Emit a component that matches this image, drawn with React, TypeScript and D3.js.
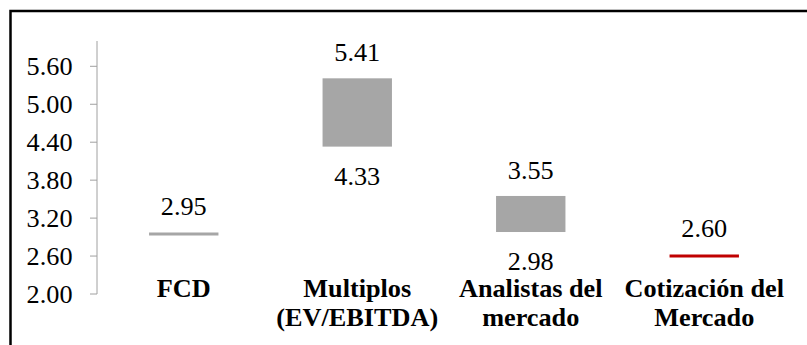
import React from "react";
import * as d3 from "d3";

// Valuation ranges per method (low / high); equal values draw a single line
const categories: string[][] = [
  ["FCD"],
  ["Multiplos", "(EV/EBITDA)"],
  ["Analistas del", "mercado"],
  ["Cotización del", "Mercado"],
];
const lows: number[] = [2.95, 4.33, 2.98, 2.6];
const highs: number[] = [2.95, 5.41, 3.55, 2.6];
const colors: string[] = ["#a6a6a6", "#a6a6a6", "#a6a6a6", "#c00000"];
const yTicks: number[] = [2.0, 2.6, 3.2, 3.8, 4.4, 5.0, 5.6];

const W = 807;
const H = 345;
const plot = { left: 97, right: 791, top: 41, bottom: 294 };
const FONT = "Liberation Serif, DejaVu Serif, serif";
const FS = 25;
const SX = 1.05;

// Text placed at (x, y) with a slight horizontal widening
function Label(props: {
  x: number;
  y: number;
  anchor: "start" | "middle" | "end";
  bold?: boolean;
  lines: string[];
  lineGap?: number;
  dy?: string;
}) {
  const { x, y, anchor, bold, lines, lineGap = 29, dy } = props;
  return (
    <g transform={`translate(${x},${y}) scale(${SX},1)`}>
      <text
        textAnchor={anchor}
        fontSize={FS}
        fontWeight={bold ? "bold" : "normal"}
        fill="#000"
        style={{ fontFamily: FONT }}
      >
        {lines.map((l, j) => (
          <tspan key={j} x={0} y={j * lineGap} dy={dy}>
            {l}
          </tspan>
        ))}
      </text>
    </g>
  );
}

export default function App() {
  const x = d3
    .scaleBand<number>()
    .domain(d3.range(categories.length))
    .range([plot.left, plot.right])
    .paddingInner(0.6)
    .paddingOuter(0.3);
  const y = d3.scaleLinear().domain([2.0, 6.0]).range([plot.bottom, plot.top]);
  const fmt = d3.format(".2f");

  return (
    <svg
      width={W}
      height={H}
      style={{ position: "absolute", left: 0, top: 0, background: "#fff" }}
    >
      {/* frame */}
      <rect x={10.5} y={11} width={W + 10} height={H + 10} fill="none" stroke="#000" strokeWidth={2.5} />

      {/* y axis */}
      <line x1={plot.left} x2={plot.left} y1={plot.top} y2={plot.bottom} stroke="#a0a0a0" strokeWidth={1} />
      {yTicks.map((t) => (
        <g key={t}>
          <line x1={plot.left - 7} x2={plot.left} y1={y(t)} y2={y(t)} stroke="#a0a0a0" strokeWidth={1} />
          <Label x={72.5} y={y(t)} anchor="end" dy="0.35em" lines={[fmt(t)]} />
        </g>
      ))}

      {/* range bars */}
      {categories.map((_, i) => {
        const x0 = x(i)!;
        const bw = x.bandwidth();
        const cx = x0 + bw / 2;
        const isLine = lows[i] === highs[i];
        const yTop = y(highs[i]);
        const yBot = y(lows[i]);
        return (
          <g key={i}>
            {isLine ? (
              <line x1={x0} x2={x0 + bw} y1={yTop} y2={yTop} stroke={colors[i]} strokeWidth={3} />
            ) : (
              <rect x={x0} y={yTop} width={bw} height={yBot - yTop} fill={colors[i]} />
            )}
            <Label x={cx} y={yTop - (isLine ? 19 : 17)} anchor="middle" lines={[fmt(highs[i])]} />
            {!isLine && <Label x={cx} y={yBot + 38} anchor="middle" lines={[fmt(lows[i])]} />}
          </g>
        );
      })}

      {/* category labels */}
      {categories.map((lines, i) => (
        <Label key={i} x={x(i)! + x.bandwidth() / 2} y={297} anchor="middle" bold lines={lines} />
      ))}
    </svg>
  );
}
